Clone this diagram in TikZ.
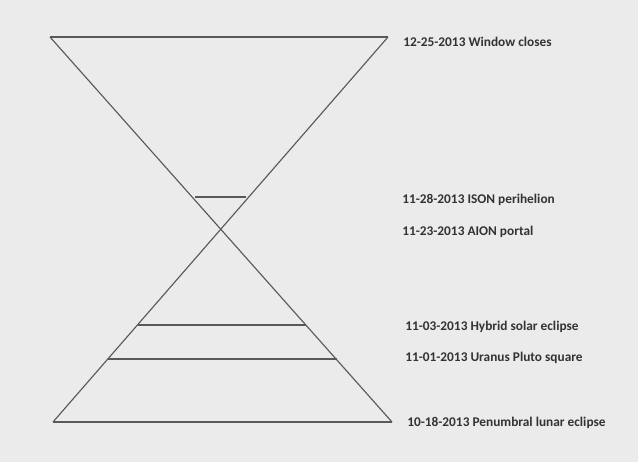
\documentclass[tikz,border=0pt]{standalone}
\usepackage{fontspec}
\setmainfont{Carlito}
\begin{document}
\begin{tikzpicture}[x=0.75pt,y=-0.75pt,
  ln/.style={draw=black!65,line width=0.85pt},
  lbl/.style={anchor=west,inner sep=0pt,text=black!80,font=\fontsize{10}{12}\selectfont\bfseries}]
\fill[black!8] (0,0) rectangle (638,462);
\useasboundingbox (0,0) rectangle (638,462);
\coordinate (tl) at (50,37);
\coordinate (tr) at (388,37);
\coordinate (bl) at (53,422);
\coordinate (br) at (392,422);
\coordinate (a1) at (195,197); \coordinate (a2) at (246,197);
\coordinate (b1) at (138,325); \coordinate (b2) at (306,325);
\coordinate (c1) at (108,359); \coordinate (c2) at (337,359);
\draw[ln] (tl) -- (tr);
\draw[ln] (tl) -- (br);
\draw[ln] (tr) -- (bl);
\draw[ln] (bl) -- (br);
\draw[ln] (a1) -- (a2);
\draw[ln] (b1) -- (b2);
\draw[ln] (c1) -- (c2);
\node[lbl] (l1) at (403,42) {12-25-2013 Window closes};
\node[lbl] (l2) at (402,200) {11-28-2013 ISON perihelion};
\node[lbl] (l3) at (402,232) {11-23-2013 AION portal};
\node[lbl] (l4) at (405,327) {11-03-2013 Hybrid solar eclipse};
\node[lbl] (l5) at (405,358) {11-01-2013 Uranus Pluto square};
\node[lbl] (l6) at (407,423) {10-18-2013 Penumbral lunar eclipse};
\end{tikzpicture}
\end{document}
